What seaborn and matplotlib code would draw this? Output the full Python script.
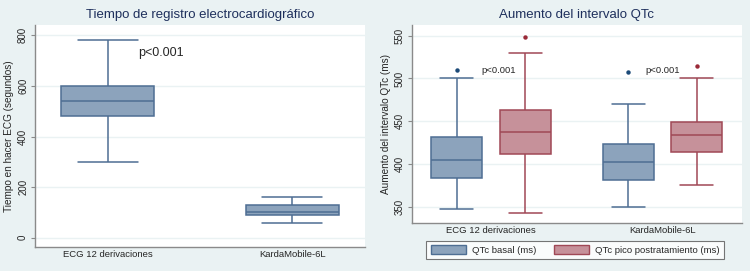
import matplotlib
matplotlib.use("Agg")
import matplotlib.pyplot as plt
import matplotlib.patches as mpatches
import numpy as np
import pandas as pd
import seaborn as sns

# datos reconstruidos a partir de los diagramas de caja
metodos = ["ECG 12 derivaciones", "KardaMobile-6L"]
tiempo_ecg12 = [300, 481, 540, 600, 780]
tiempo_kardia = [58, 90, 102, 128, 160]

series = ["QTc basal (ms)", "QTc pico postratamiento (ms)"]
qtc_basal_ecg12 = [347, 370, 383, 395, 405, 420, 432, 500, 510]
qtc_pico_ecg12 = [342, 390, 411, 425, 437, 450, 463, 530, 549]
qtc_basal_kardia = [350, 368, 381, 392, 402, 412, 423, 470, 507]
qtc_pico_kardia = [375, 400, 414, 425, 434, 440, 449, 500, 515]

bg = "#EAF2F3"
azul_fill, azul_line, azul_dot = "#8CA3BC", "#4E6E93", "#1C4A78"
rojo_fill, rojo_line, rojo_dot = "#C6919A", "#A04856", "#9A2A38"
titulo_color = "#1E2F5C"

sns.set_theme(style="white")
plt.rcParams["font.family"] = ["Liberation Sans", "DejaVu Sans"]

df_tiempo = pd.DataFrame({
    "metodo": [metodos[0]] * len(tiempo_ecg12) + [metodos[1]] * len(tiempo_kardia),
    "valor": tiempo_ecg12 + tiempo_kardia,
})

filas = []
for m, s, vals in [(metodos[0], series[0], qtc_basal_ecg12),
                   (metodos[0], series[1], qtc_pico_ecg12),
                   (metodos[1], series[0], qtc_basal_kardia),
                   (metodos[1], series[1], qtc_pico_kardia)]:
    for v in vals:
        filas.append({"metodo": m, "serie": s, "valor": v})
df_qtc = pd.DataFrame(filas)

fig = plt.figure(figsize=(7.5, 2.71), dpi=100)
fig.patch.set_facecolor(bg)

ax1 = fig.add_axes([0.0467, 0.0886, 0.44, 0.819])
ax2 = fig.add_axes([0.549, 0.178, 0.44, 0.7295])


def estilo(ax):
    ax.set_facecolor("white")
    for side in ["top", "right"]:
        ax.spines[side].set_visible(False)
    for side in ["left", "bottom"]:
        ax.spines[side].set_color("#8A8A8A")
        ax.spines[side].set_linewidth(1.0)
    ax.grid(axis="y", color=bg, linewidth=1.0)
    ax.set_axisbelow(True)
    ax.tick_params(axis="y", which="major", left=True, length=3, width=0.8,
                   color="#8A8A8A", labelsize=7, pad=2)
    ax.tick_params(axis="x", which="major", bottom=False, length=0,
                   labelsize=6.8, pad=2.5)
    for lbl in ax.get_yticklabels():
        lbl.set_rotation(90)
        lbl.set_va("center")
    ax.set_xlabel("")


def ensanchar_topes(ax, ancho_caja, factor=1.3):
    # los topes de los bigotes en Stata son algo más anchos
    for ln in ax.get_lines():
        x, y = np.asarray(ln.get_xdata(), float), np.asarray(ln.get_ydata(), float)
        if len(x) == 2 and y[0] == y[1]:
            largo = abs(x[1] - x[0])
            if largo < 0.9 * ancho_caja:
                c = x.mean()
                ln.set_xdata(c + (x - c) * factor)


# panel izquierdo (sin atípicos: bigotes hasta mínimo y máximo)
sns.boxplot(data=df_tiempo, x="metodo", y="valor", ax=ax1, width=0.5,
            color=azul_fill, linecolor=azul_line, linewidth=1.1,
            whis=(0, 100), fliersize=0)
for patch in ax1.patches:
    patch.set_facecolor(azul_fill)
    patch.set_edgecolor(azul_line)
ensanchar_topes(ax1, 0.5)
ax1.set_xlim(-0.393, 1.393)
ax1.set_ylim(-37, 841)
ax1.set_yticks([0, 200, 400, 600, 800])
ax1.set_ylabel("Tiempo en hacer ECG (segundos)", fontsize=7.2, labelpad=3)
ax1.set_title("Tiempo de registro electrocardiográfico", fontsize=9.5,
              color=titulo_color, pad=5)
ax1.text(0.164, 730, "p<0.001", fontsize=9, va="center", ha="left")
estilo(ax1)

# panel derecho
sns.boxplot(data=df_qtc, x="metodo", y="valor", hue="serie", ax=ax2,
            width=0.8, gap=0.26, palette=[azul_fill, rojo_fill],
            linewidth=1.1, whis=1.5, legend=False,
            flierprops={"marker": "o", "markersize": 3.2, "markeredgewidth": 0})
colores = [(azul_fill, azul_line, azul_dot), (rojo_fill, rojo_line, rojo_dot)]
# cajas: orden por serie (hue) en seaborn 0.13
for i, patch in enumerate(ax2.patches):
    f, l, d = colores[i // 2]
    patch.set_facecolor(f)
    patch.set_edgecolor(l)
lineas = ax2.get_lines()
# cada caja tiene 6 líneas: 2 bigotes, 2 topes, mediana, atípicos
for i, ln in enumerate(lineas):
    f, l, d = colores[(i // 6) // 2]
    if ln.get_marker() not in (None, "None", ""):
        ln.set_markerfacecolor(d)
        ln.set_markeredgecolor(d)
        ln.set_color(d)
    else:
        ln.set_color(l)
ensanchar_topes(ax2, 0.4 * 0.74)
ax2.set_xlim(-0.4615, 1.4615)
ax2.set_ylim(331, 562.5)
ax2.set_yticks([350, 400, 450, 500, 550])
ax2.set_ylabel("Aumento del intervalo QTc (ms)", fontsize=7.2, labelpad=3)
ax2.set_title("Aumento del intervalo QTc", fontsize=9.5, color=titulo_color, pad=5)
ax2.text(-0.055, 509, "p<0.001", fontsize=6.8, va="center", ha="left")
ax2.text(0.899, 509, "p<0.001", fontsize=6.8, va="center", ha="left")
estilo(ax2)

handles = [mpatches.Patch(facecolor=azul_fill, edgecolor=azul_line, label=series[0]),
           mpatches.Patch(facecolor=rojo_fill, edgecolor=rojo_line, label=series[1])]
leg = fig.legend(handles=handles, loc="center", ncol=2,
                 bbox_to_anchor=(0.767, 0.0775), fontsize=6.8,
                 frameon=True, fancybox=False, edgecolor="#555555",
                 handlelength=3.7, handleheight=1.0, columnspacing=1.8,
                 handletextpad=0.7, borderpad=0.45)
leg.get_frame().set_linewidth(0.8)

fig.savefig("out.png", dpi=100, facecolor=bg)
